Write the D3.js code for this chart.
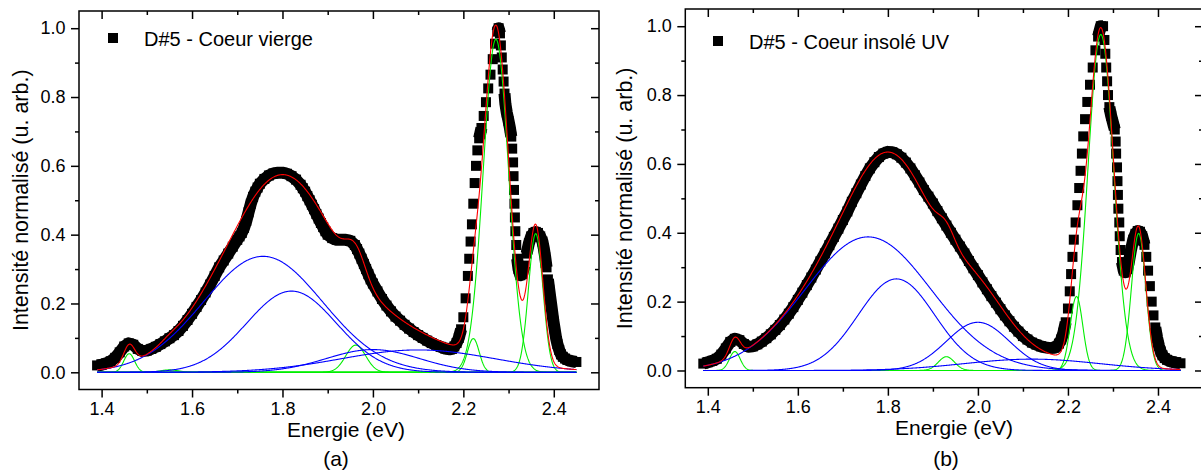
<!DOCTYPE html>
<html><head><meta charset="utf-8">
<script src="https://cdn.jsdelivr.net/npm/d3@7"></script>
<style>
body{margin:0;background:#fff}
svg{display:block}
text{font-family:"Liberation Sans",Arial,Helvetica,sans-serif;fill:#000}
</style></head>
<body><svg id="chart" width="1201" height="475"></svg>
<script>
// ---------- data : panel (a) D#5 - Coeur vierge ----------
const energyA = [1.39,1.40,1.41,1.42,1.43,1.44,1.45,1.46,1.47,1.48,1.49,1.50,1.51,1.52,1.53,1.54,1.55,1.56,1.57,1.58,1.59,1.60,1.61,1.62,1.63,1.64,1.65,1.66,1.67,1.68,1.69,1.70,1.705,1.71,1.715,1.72,1.725,1.73,1.735,1.74,1.745,1.75,1.76,1.77,1.78,1.79,1.80,1.81,1.82,1.83,1.84,1.845,1.85,1.855,1.86,1.865,1.87,1.875,1.88,1.885,1.89,1.895,1.90,1.91,1.92,1.93,1.94,1.95,1.96,1.965,1.97,1.975,1.98,1.985,1.99,1.995,2.00,2.01,2.02,2.03,2.04,2.05,2.06,2.07,2.08,2.09,2.10,2.11,2.12,2.13,2.14,2.15,2.16,2.17,2.175,2.18,2.185,2.19,2.195,2.20,2.205,2.21,2.213,2.216,2.219,2.222,2.225,2.228,2.231,2.235,2.24,2.245,2.25,2.255,2.26,2.265,2.27,2.275,2.278,2.281,2.283,2.285,2.287,2.289,2.291,2.293,2.296,2.30,2.303,2.306,2.308,2.31,2.311,2.312,2.313,2.314,2.315,2.317,2.319,2.322,2.326,2.33,2.335,2.34,2.345,2.35,2.355,2.36,2.365,2.37,2.375,2.378,2.381,2.384,2.387,2.39,2.393,2.396,2.399,2.402,2.405,2.408,2.412,2.416,2.42,2.425,2.43,2.44,2.45];
const intensityA = [0.02,0.022,0.026,0.032,0.042,0.058,0.075,0.084,0.08,0.068,0.062,0.063,0.068,0.074,0.082,0.09,0.099,0.108,0.12,0.135,0.152,0.17,0.19,0.21,0.232,0.255,0.28,0.305,0.325,0.345,0.365,0.385,0.395,0.405,0.42,0.44,0.465,0.49,0.51,0.525,0.537,0.548,0.562,0.572,0.578,0.58,0.58,0.577,0.57,0.56,0.545,0.535,0.525,0.512,0.5,0.487,0.474,0.46,0.447,0.434,0.422,0.41,0.40,0.39,0.385,0.385,0.385,0.382,0.37,0.358,0.345,0.33,0.315,0.30,0.285,0.27,0.258,0.235,0.213,0.194,0.177,0.162,0.15,0.138,0.127,0.117,0.108,0.10,0.092,0.085,0.079,0.074,0.069,0.067,0.068,0.075,0.085,0.10,0.125,0.16,0.215,0.28,0.33,0.38,0.43,0.49,0.55,0.60,0.645,0.68,0.71,0.745,0.785,0.825,0.865,0.91,0.955,0.99,1.0,0.985,0.95,0.915,0.88,0.845,0.81,0.78,0.755,0.73,0.71,0.685,0.65,0.61,0.57,0.53,0.49,0.45,0.41,0.37,0.33,0.30,0.282,0.285,0.31,0.345,0.375,0.395,0.405,0.408,0.405,0.395,0.38,0.36,0.335,0.305,0.27,0.24,0.21,0.18,0.15,0.125,0.10,0.082,0.065,0.052,0.045,0.04,0.036,0.032,0.03];

// fitted components (a): Gaussian centre (eV), height, width (eV)
const blueCenterA = [1.757, 1.82, 2.0, 2.10];
const blueHeightA = [0.337, 0.236, 0.066, 0.065];
const blueWidthA  = [0.132, 0.099, 0.103, 0.17];
const greenCenterA = [1.461, 1.55, 1.962, 2.222, 2.272, 2.36];
const greenHeightA = [0.054, 0.007, 0.079, 0.098, 0.968, 0.403];
const greenWidthA  = [0.012, 0.02, 0.022, 0.013, 0.028, 0.016];

// ---------- data : panel (b) D#5 - Coeur insolé UV ----------
const energyB = [1.39,1.40,1.41,1.42,1.43,1.44,1.45,1.46,1.47,1.48,1.49,1.50,1.51,1.52,1.53,1.54,1.55,1.56,1.57,1.58,1.59,1.60,1.61,1.62,1.63,1.64,1.65,1.66,1.67,1.68,1.69,1.70,1.71,1.72,1.73,1.74,1.75,1.76,1.77,1.78,1.79,1.80,1.81,1.82,1.83,1.84,1.85,1.86,1.87,1.88,1.89,1.90,1.91,1.92,1.93,1.94,1.95,1.96,1.97,1.98,1.99,2.00,2.01,2.02,2.03,2.04,2.05,2.06,2.07,2.08,2.09,2.10,2.11,2.12,2.13,2.14,2.15,2.16,2.17,2.175,2.18,2.185,2.19,2.195,2.20,2.204,2.207,2.21,2.213,2.217,2.221,2.225,2.228,2.231,2.234,2.238,2.243,2.249,2.255,2.261,2.267,2.273,2.278,2.281,2.283,2.285,2.287,2.289,2.292,2.296,2.30,2.304,2.306,2.307,2.309,2.31,2.311,2.312,2.314,2.315,2.317,2.32,2.324,2.328,2.332,2.336,2.34,2.345,2.35,2.355,2.36,2.365,2.37,2.374,2.378,2.382,2.386,2.39,2.394,2.398,2.402,2.406,2.41,2.415,2.42,2.43,2.44,2.45];
const intensityB = [0.02,0.024,0.028,0.034,0.046,0.064,0.083,0.092,0.088,0.077,0.069,0.07,0.076,0.084,0.094,0.105,0.118,0.132,0.148,0.165,0.184,0.205,0.226,0.248,0.27,0.293,0.317,0.34,0.364,0.388,0.412,0.437,0.462,0.49,0.515,0.54,0.565,0.587,0.605,0.62,0.63,0.635,0.634,0.628,0.618,0.604,0.587,0.567,0.546,0.524,0.505,0.485,0.463,0.442,0.421,0.40,0.38,0.36,0.34,0.318,0.297,0.277,0.256,0.236,0.216,0.197,0.178,0.16,0.143,0.127,0.113,0.10,0.09,0.081,0.075,0.07,0.067,0.065,0.066,0.07,0.078,0.09,0.11,0.14,0.18,0.23,0.28,0.33,0.38,0.43,0.48,0.53,0.58,0.63,0.68,0.73,0.78,0.83,0.88,0.93,0.97,1.0,1.0,0.96,0.92,0.88,0.84,0.80,0.765,0.74,0.72,0.70,0.665,0.63,0.59,0.55,0.51,0.47,0.43,0.39,0.35,0.315,0.29,0.285,0.295,0.32,0.35,0.38,0.397,0.405,0.403,0.39,0.365,0.33,0.29,0.245,0.20,0.16,0.125,0.095,0.072,0.055,0.044,0.036,0.031,0.026,0.023,0.021];

const blueCenterB = [1.756, 1.819, 2.0, 2.12];
const blueHeightB = [0.388, 0.266, 0.14, 0.033];
const blueWidthB  = [0.14, 0.085, 0.07, 0.15];
const greenCenterB = [1.46, 1.93, 2.219, 2.273, 2.357];
const greenHeightB = [0.055, 0.04, 0.215, 0.976, 0.398];
const greenWidthB  = [0.012, 0.018, 0.014, 0.0283, 0.016];

// ---------- axes ----------
const xMajorTicks = [1.4, 1.6, 1.8, 2.0, 2.2, 2.4];
const xMinorTicks = [1.5, 1.7, 1.9, 2.1, 2.3];
const yMajorTicks = [0.0, 0.2, 0.4, 0.6, 0.8, 1.0];
const yMinorTicks = [0.1, 0.3, 0.5, 0.7, 0.9];
const xTitle = "Energie (eV)";
const yTitle = "Intensité normalisé (u. arb.)";
const fitRange = [1.39, 2.45];

const svg = d3.select("#chart");
const fmt = d3.format(".1f");

function gauss(c, h, w) {
  return e => h * Math.exp(-((e - c) * (e - c)) / (2 * w * w));
}

function panel(cfg) {
  const x = d3.scaleLinear().domain([1.35, 2.5]).range([cfg.left, cfg.right]);
  const y = d3.scaleLinear().domain([-0.05, 1.05]).range([cfg.bottom, cfg.top]);
  const g = svg.append("g");
  const pts = cfg.energy.map((e, i) => [e, cfg.intensity[i]]);

  // data : thick band joining neighbouring (overlapping) squares, then squares
  const runs = [];
  let run = [pts[0]];
  for (let i = 1; i < pts.length; i++) {
    const dy = Math.abs(y(pts[i][1]) - y(pts[i - 1][1]));
    if (dy < 12) run.push(pts[i]); else { runs.push(run); run = [pts[i]]; }
  }
  runs.push(run);
  const dline = d3.line().x(d => x(d[0])).y(d => y(d[1]));
  g.append("g").selectAll("path").data(runs.filter(r => r.length > 1)).join("path")
    .attr("d", dline).attr("fill", "none").attr("stroke", "#000")
    .attr("stroke-width", 12).attr("stroke-linejoin", "round");
  g.append("g").selectAll("rect").data(pts).join("rect")
    .attr("x", d => x(d[0]) - 5).attr("y", d => y(d[1]) - 5)
    .attr("width", 10).attr("height", 10).attr("fill", "#000");

  const grid = d3.range(fitRange[0], fitRange[1] + 1e-9, 0.001);
  const line = d3.line().x(d => x(d[0])).y(d => y(d[1]));
  const comps = [];
  cfg.greenC.forEach((c, i) => {
    const f = gauss(c, cfg.greenH[i], cfg.greenW[i]); comps.push(f);
    g.append("path").attr("d", line(grid.map(e => [e, f(e)])))
      .attr("fill", "none").attr("stroke", "#00ee00").attr("stroke-width", 1.1);
  });
  cfg.blueC.forEach((c, i) => {
    const f = gauss(c, cfg.blueH[i], cfg.blueW[i]); comps.push(f);
    g.append("path").attr("d", line(grid.map(e => [e, f(e)])))
      .attr("fill", "none").attr("stroke", "#0000ff").attr("stroke-width", 1.1);
  });
  g.append("path").attr("d", line(grid.map(e => [e, d3.sum(comps, f => f(e))])))
    .attr("fill", "none").attr("stroke", "#ff0000").attr("stroke-width", 1.1);

  // axes
  const ax = (a, vals, size, pad, fmtf) => a.tickValues(vals).tickSizeInner(size).tickSizeOuter(0).tickPadding(pad).tickFormat(fmtf);
  const style = sel => {
    sel.select(".domain").remove();
    sel.selectAll("line").attr("stroke", "#000").attr("stroke-width", 1.5);
    sel.selectAll("text").attr("font-size", 18).attr("font-family", '"Liberation Sans",Arial,sans-serif');
  };
  g.append("g").attr("transform", `translate(0,${cfg.bottom})`).call(ax(d3.axisBottom(x), xMajorTicks, 8, 5, fmt)).call(style);
  g.append("g").attr("transform", `translate(0,${cfg.bottom})`).call(ax(d3.axisBottom(x), xMinorTicks, 4, 0, "")).call(style);
  g.append("g").attr("transform", `translate(${cfg.left},0)`).call(ax(d3.axisLeft(y), yMajorTicks, 8, 5.5, fmt)).call(style);
  g.append("g").attr("transform", `translate(${cfg.left},0)`).call(ax(d3.axisLeft(y), yMinorTicks, 4, 0, "")).call(style);
  g.append("g").attr("transform", `translate(0,${cfg.top})`).call(ax(d3.axisTop(x), xMajorTicks, -8, 0, "")).call(style);
  g.append("g").attr("transform", `translate(0,${cfg.top})`).call(ax(d3.axisTop(x), xMinorTicks, -4, 0, "")).call(style);
  g.append("g").attr("transform", `translate(${cfg.right},0)`).call(ax(d3.axisRight(y), yMajorTicks, -8, 0, "")).call(style);
  g.append("g").attr("transform", `translate(${cfg.right},0)`).call(ax(d3.axisRight(y), yMinorTicks, -4, 0, "")).call(style);

  g.append("rect").attr("x", cfg.left).attr("y", cfg.top)
    .attr("width", cfg.right - cfg.left).attr("height", cfg.bottom - cfg.top)
    .attr("fill", "none").attr("stroke", "#000").attr("stroke-width", 1.5);

  // legend
  g.append("rect").attr("x", cfg.legX - 5).attr("y", cfg.legY - 5).attr("width", 10).attr("height", 10).attr("fill", "#000");
  g.append("text").attr("x", cfg.legX + 31).attr("y", cfg.legY + 7.5).attr("font-size", 20).text(cfg.legend);

  // titles
  g.append("text").attr("x", cfg.xTitleX).attr("y", cfg.bottom + 47.5).attr("text-anchor", "middle")
    .attr("font-size", 21).text(xTitle);
  g.append("text").attr("transform", `translate(${cfg.yTitleX},${(cfg.top + cfg.bottom) / 2}) rotate(-90)`)
    .attr("text-anchor", "middle").attr("font-size", 21.5).text(yTitle);
  g.append("text").attr("x", cfg.labelX).attr("y", 466).attr("text-anchor", "middle")
    .attr("font-size", 21).text(cfg.label);
}

panel({left: 79, right: 599, top: 11, bottom: 389.5,
  energy: energyA, intensity: intensityA,
  blueC: blueCenterA, blueH: blueHeightA, blueW: blueWidthA,
  greenC: greenCenterA, greenH: greenHeightA, greenW: greenWidthA,
  legend: "D#5 - Coeur vierge", legX: 113, legY: 38,
  xTitleX: 346, yTitleX: 28, labelX: 336, label: "(a)"});

panel({left: 685.3, right: 1203, top: 9, bottom: 387.7,
  energy: energyB, intensity: intensityB,
  blueC: blueCenterB, blueH: blueHeightB, blueW: blueWidthB,
  greenC: greenCenterB, greenH: greenHeightB, greenW: greenWidthB,
  legend: "D#5 - Coeur insolé UV", legX: 718, legY: 41,
  xTitleX: 954, yTitleX: 632, labelX: 946, label: "(b)"});
</script>
</body></html>
